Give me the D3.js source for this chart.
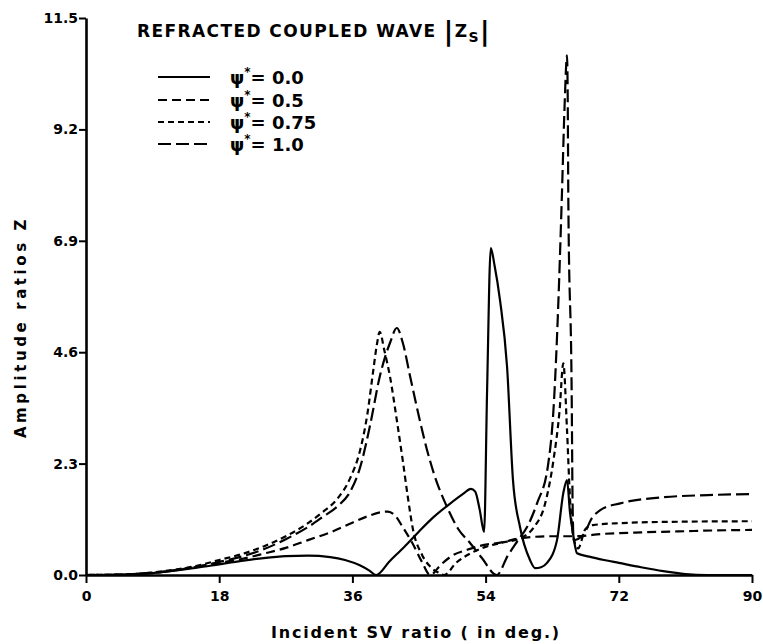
<!DOCTYPE html>
<html>
<head>
<meta charset="utf-8">
<script src="https://cdn.jsdelivr.net/npm/d3@7"></script>
<style>
  body { margin: 0; background: #fff; }
  svg text { font-family: "DejaVu Sans", "Liberation Sans", sans-serif; font-weight: bold; fill: #000; }
</style>
</head>
<body>
<div id="chart"></div>
<script>
// tick labels
var xTicks = [0, 18, 36, 54, 72, 90];
var yTicks = [0.0, 2.3, 4.6, 6.9, 9.2, 11.5];

// series labels
var psiLabels = ["0.0", "0.5", "0.75", "1.0"];

// [angle, amplitude]
var psi00 = [[0,0],[3,0],[6,0.01],[9,0.04],[12,0.09],[15,0.15],[18,0.22],[21,0.29],[24,0.35],[27,0.39],[30,0.40],
  [33,0.37],[35,0.31],[37,0.2],[38.3,0.09],[39.2,0],[41,0.28],[43,0.58],[45,0.9],[47,1.2],[49,1.45],[51,1.68],
  [52,1.78],[52.6,1.72],[53.2,1.35],[53.8,0.89],[54.2,3.8],[54.7,6.75],[55.2,6.4],[55.95,5.67],[56.9,4.3],
  [57.7,1.96],[58.65,0.99],[60.0,0.31],[60.7,0.14],[61.5,0.16],[62.3,0.25],[63.65,0.72],[64.5,1.69],[65.0,1.96],
  [65.4,1.3],[65.8,0.87],[66.35,0.45],[68,0.38],[70,0.31],[72,0.25],[75,0.16],[78,0.08],[81,0.02],[84,0],[90,0]];

var psi05 = [[0,0],[5,0.01],[10,0.06],[15,0.17],[18,0.25],[21,0.33],[24,0.44],[27,0.56],[30,0.72],[33,0.88],
  [36,1.08],[38,1.21],[40,1.3],[40.8,1.31],[41.8,1.22],[42.8,0.99],[44.1,0.66],[45.4,0.27],[46.5,0],[48,0.22],
  [49.6,0.41],[51.5,0.52],[53.2,0.6],[56.4,0.68],[58.7,0.76],[62.7,0.8],[66,0.8],[70,0.85],[75,0.88],[80,0.9],
  [85,0.92],[90,0.93]];

var psi075 = [[0,0],[5,0.01],[10,0.07],[15,0.19],[18,0.31],[21,0.43],[24,0.59],[27,0.8],[30,1.07],[32,1.3],
  [34,1.58],[35.7,2.0],[37,2.55],[38,3.3],[38.8,4.2],[39.3,4.75],[39.7,5.02],[40.3,4.65],[41.1,4.08],[42.0,3.2],
  [42.8,2.37],[43.5,1.6],[44.2,0.93],[45.4,0.42],[46.6,0.16],[47.6,0.05],[48.4,0],[50,0.25],[52,0.45],[54,0.58],
  [56,0.66],[58.7,0.76],[60.5,0.98],[62,1.45],[63.2,2.4],[64,3.4],[64.5,4.37],[65,3.0],[65.4,1.6],[65.9,0.75],
  [66.5,0.55],[67.5,0.95],[68.5,1.03],[72,1.07],[80,1.1],[90,1.11]];

var psi10 = [[0,0],[5,0.01],[10,0.06],[15,0.17],[18,0.27],[21,0.38],[24,0.53],[27,0.74],[30,0.99],[32,1.2],
  [34,1.42],[35.7,1.72],[37,2.2],[38.4,3.1],[39.7,4.1],[41.1,4.8],[42,5.1],[42.8,4.8],[43.8,4.1],[45.1,3.2],[45.8,2.75],
  [47,2.1],[48.8,1.4],[50.3,0.95],[51.9,0.66],[53.5,0.35],[55.5,0],[57,0.4],[58.3,0.7],[59.6,0.99],[61,1.5],
  [62.4,2.23],[63.25,3.61],[63.8,5.5],[64.29,7.74],[64.7,9.8],[65.0,10.73],[65.1,9.8],[65.18,7.74],[65.64,3.61],
  [65.75,1.55],[65.9,0.72],[67.2,0.83],[68.4,1.18],[69.5,1.34],[72.2,1.48],[77.6,1.6],[84,1.65],[90,1.67]];

var seriesData = [psi00, psi05, psi075, psi10];
var dashes = ["none", "9,5", "6,4", "13,5"];

var svgWidth = 763;
var svgHeight = 644;

var svg = d3.select("#chart")
    .append("svg")
    .attr("width", svgWidth)
    .attr("height", svgHeight);

// Scales
var x = d3.scaleLinear().domain([0, 90]).range([86, 752]);
var y = d3.scaleLinear().domain([0, 11.5]).range([575, 18]);

// Axes
var xAxis = svg.append("g")
    .attr("transform", "translate(0," + y(0) + ")")
    .call(d3.axisBottom(x).tickValues(xTicks).tickSize(8).tickSizeOuter(0).tickFormat(d3.format("d")));
var yAxis = svg.append("g")
    .attr("transform", "translate(" + x(0) + ",0)")
    .call(d3.axisLeft(y).tickValues(yTicks).tickSize(7).tickSizeOuter(0).tickFormat(d3.format(".1f")));

[xAxis, yAxis].forEach(function (g) {
    g.select(".domain").attr("stroke", "#000").attr("stroke-width", 2.6);
    g.selectAll(".tick line").attr("stroke", "#000").attr("stroke-width", 2);
    g.selectAll(".tick text").style("font-size", "14px");
});
xAxis.selectAll(".tick text").attr("dy", "1.05em");
yAxis.selectAll(".tick text").attr("x", -8);

// Curves
var line = d3.line()
    .x(d => x(d[0]))
    .y(d => y(d[1]))
    .curve(d3.curveMonotoneX);

svg.selectAll("path.curve")
    .data(seriesData)
    .enter()
    .append("path")
    .attr("class", "curve")
    .attr("d", line)
    .attr("fill", "none")
    .attr("stroke", "#000")
    .attr("stroke-width", 2.2)
    .attr("stroke-dasharray", (d, i) => dashes[i]);

// Title
var title = svg.append("text")
    .attr("x", 137)
    .attr("y", 37)
    .style("font-size", "17px")
    .style("letter-spacing", "1.4px");
title.append("tspan").text("REFRACTED COUPLED  WAVE ");
title.append("tspan").style("font-size", "26px").attr("dy", 3).text("|");
title.append("tspan").attr("dy", -3).text("Z");
title.append("tspan").attr("dy", 5).style("font-size", "14px").text("S");
title.append("tspan").attr("dy", -2).style("font-size", "26px").text("|");

// Legend
var legend = svg.selectAll("g.legend")
    .data(psiLabels)
    .enter()
    .append("g")
    .attr("class", "legend")
    .attr("transform", (d, i) => "translate(158," + [77, 100, 122, 144][i] + ")");

legend.append("line")
    .attr("x1", 0).attr("x2", 52)
    .attr("stroke", "#000")
    .attr("stroke-width", 2.2)
    .attr("stroke-dasharray", (d, i) => dashes[i]);

var lt = legend.append("text")
    .attr("x", 72)
    .attr("y", 7)
    .style("font-size", "18px");
lt.append("tspan").text("\u03C8");
lt.append("tspan").attr("dy", -8).style("font-size", "12px").text("*");
lt.append("tspan").attr("dy", 8).text(d => "= " + d);

// Axis titles
svg.append("text")
    .attr("transform", "translate(26,327) rotate(-90)")
    .attr("text-anchor", "middle")
    .style("font-size", "15px")
    .style("letter-spacing", "3.6px")
    .text("Amplitude ratios Z");

svg.append("text")
    .attr("x", 416)
    .attr("y", 638)
    .attr("text-anchor", "middle")
    .style("font-size", "16px")
    .style("letter-spacing", "1.8px")
    .text("Incident  SV ratio ( in deg.)");
</script>
</body>
</html>
